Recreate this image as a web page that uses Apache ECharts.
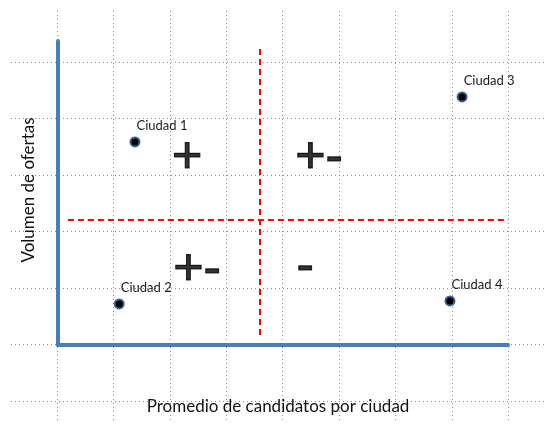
<!DOCTYPE html>
<html><head><meta charset="utf-8">
<script src="https://cdn.jsdelivr.net/npm/echarts@6/dist/echarts.min.js"></script>
<style>html,body{margin:0;padding:0;background:#fff}#c{width:559px;height:435px}</style>
</head><body><div id="c"></div>
<script>
// Data (x: Promedio de candidatos, y: Volumen de ofertas), on a 0-100 scale
const cities = ['Ciudad 1', 'Ciudad 2', 'Ciudad 3', 'Ciudad 4'];
const candidates = [17.1, 13.6, 89.8, 87.1];
const offers = [66.8, 13.5, 81.6, 14.5];
// Quadrant markers
const quadrantTexts = ['+', '+-', '+-', '-'];
const quadrantX = [28.7, 58.0, 30.9, 54.9];
const quadrantY = [61.2, 61.2, 24.4, 25.3];
// Red dashed dividers
const splitX = 44.9, splitXRange = [3.3, 98.4];
const splitY = 41.1, splitYRange = [2.2, 100];
const xTitle = 'Promedio de candidatos por ciudad';
const yTitle = 'Volumen de ofertas';

const chart = echarts.init(document.getElementById('c'));
const bgSplit = { show: true, showMinLine: false, showMaxLine: false,
  lineStyle: { type: [1, 3], color: '#8a8a8a', width: 1 } };
const hidden = { axisLine: { show: false }, axisTick: { show: false }, axisLabel: { show: false } };
const blueLine = { show: true, onZero: false, lineStyle: { color: '#4a7ebb', width: 4 } };
const titleStyle = { fontSize: 17, color: '#111', fontFamily: 'Lato' };

chart.setOption({
  animation: false,
  grid: [
    { left: 11, top: 11, width: 536, height: 412 },
    { left: 58, top: 41, width: 450, height: 304 }
  ],
  xAxis: [
    Object.assign({ gridIndex: 0, type: 'value', min: -0.8156, max: 8.688, splitNumber: 10, splitLine: bgSplit }, hidden),
    { gridIndex: 1, type: 'value', min: 0, max: 100, axisLine: blueLine, axisTick: { show: false },
      axisLabel: { show: false }, splitLine: { show: false },
      name: xTitle, nameLocation: 'middle', nameGap: 53, nameTextStyle: Object.assign({ padding: [0, 10, 0, 0] }, titleStyle) }
  ],
  yAxis: [
    Object.assign({ gridIndex: 0, type: 'value', min: -1.389, max: 5.903, splitNumber: 8, splitLine: bgSplit }, hidden),
    { gridIndex: 1, type: 'value', min: 0, max: 100, axisLine: blueLine, axisTick: { show: false },
      axisLabel: { show: false }, splitLine: { show: false },
      name: yTitle, nameLocation: 'middle', nameGap: 21, nameRotate: 90,
      nameTextStyle: Object.assign({ padding: [0, 0, 0, 6] }, titleStyle) }
  ],
  series: [
    {
      type: 'scatter', xAxisIndex: 1, yAxisIndex: 1,
      data: cities.map((n, i) => ({ name: n, value: [candidates[i], offers[i]] })),
      symbolSize: 9,
      itemStyle: { color: '#000', borderColor: '#3b5f8f', borderWidth: 2, opacity: 1 },
      label: { show: true, formatter: '{b}', position: 'top', distance: 4, offset: [27, 0],
        fontSize: 13, color: '#1a1a1a', fontFamily: 'Lato' },
      markLine: {
        silent: true, symbol: ['none', 'none'], label: { show: false },
        lineStyle: { color: '#ff0000', type: [6, 4], width: 2 },
        data: [
          [{ coord: [splitX, splitXRange[0]] }, { coord: [splitX, splitXRange[1]] }],
          [{ coord: [splitYRange[0], splitY] }, { coord: [splitYRange[1], splitY] }]
        ]
      },
      z: 5
    },
    {
      type: 'scatter', xAxisIndex: 1, yAxisIndex: 1,
      data: quadrantTexts.map((t, i) => ({ name: t, value: [quadrantX[i], quadrantY[i]] })),
      symbolSize: 1, itemStyle: { color: 'transparent' },
      label: { show: true, formatter: '{b}', position: 'inside', fontSize: 52,
        fontFamily: 'Liberation Sans', color: '#000', textBorderColor: '#000', textBorderWidth: 1.2 },
      z: 4
    }
  ]
});
</script></body></html>
